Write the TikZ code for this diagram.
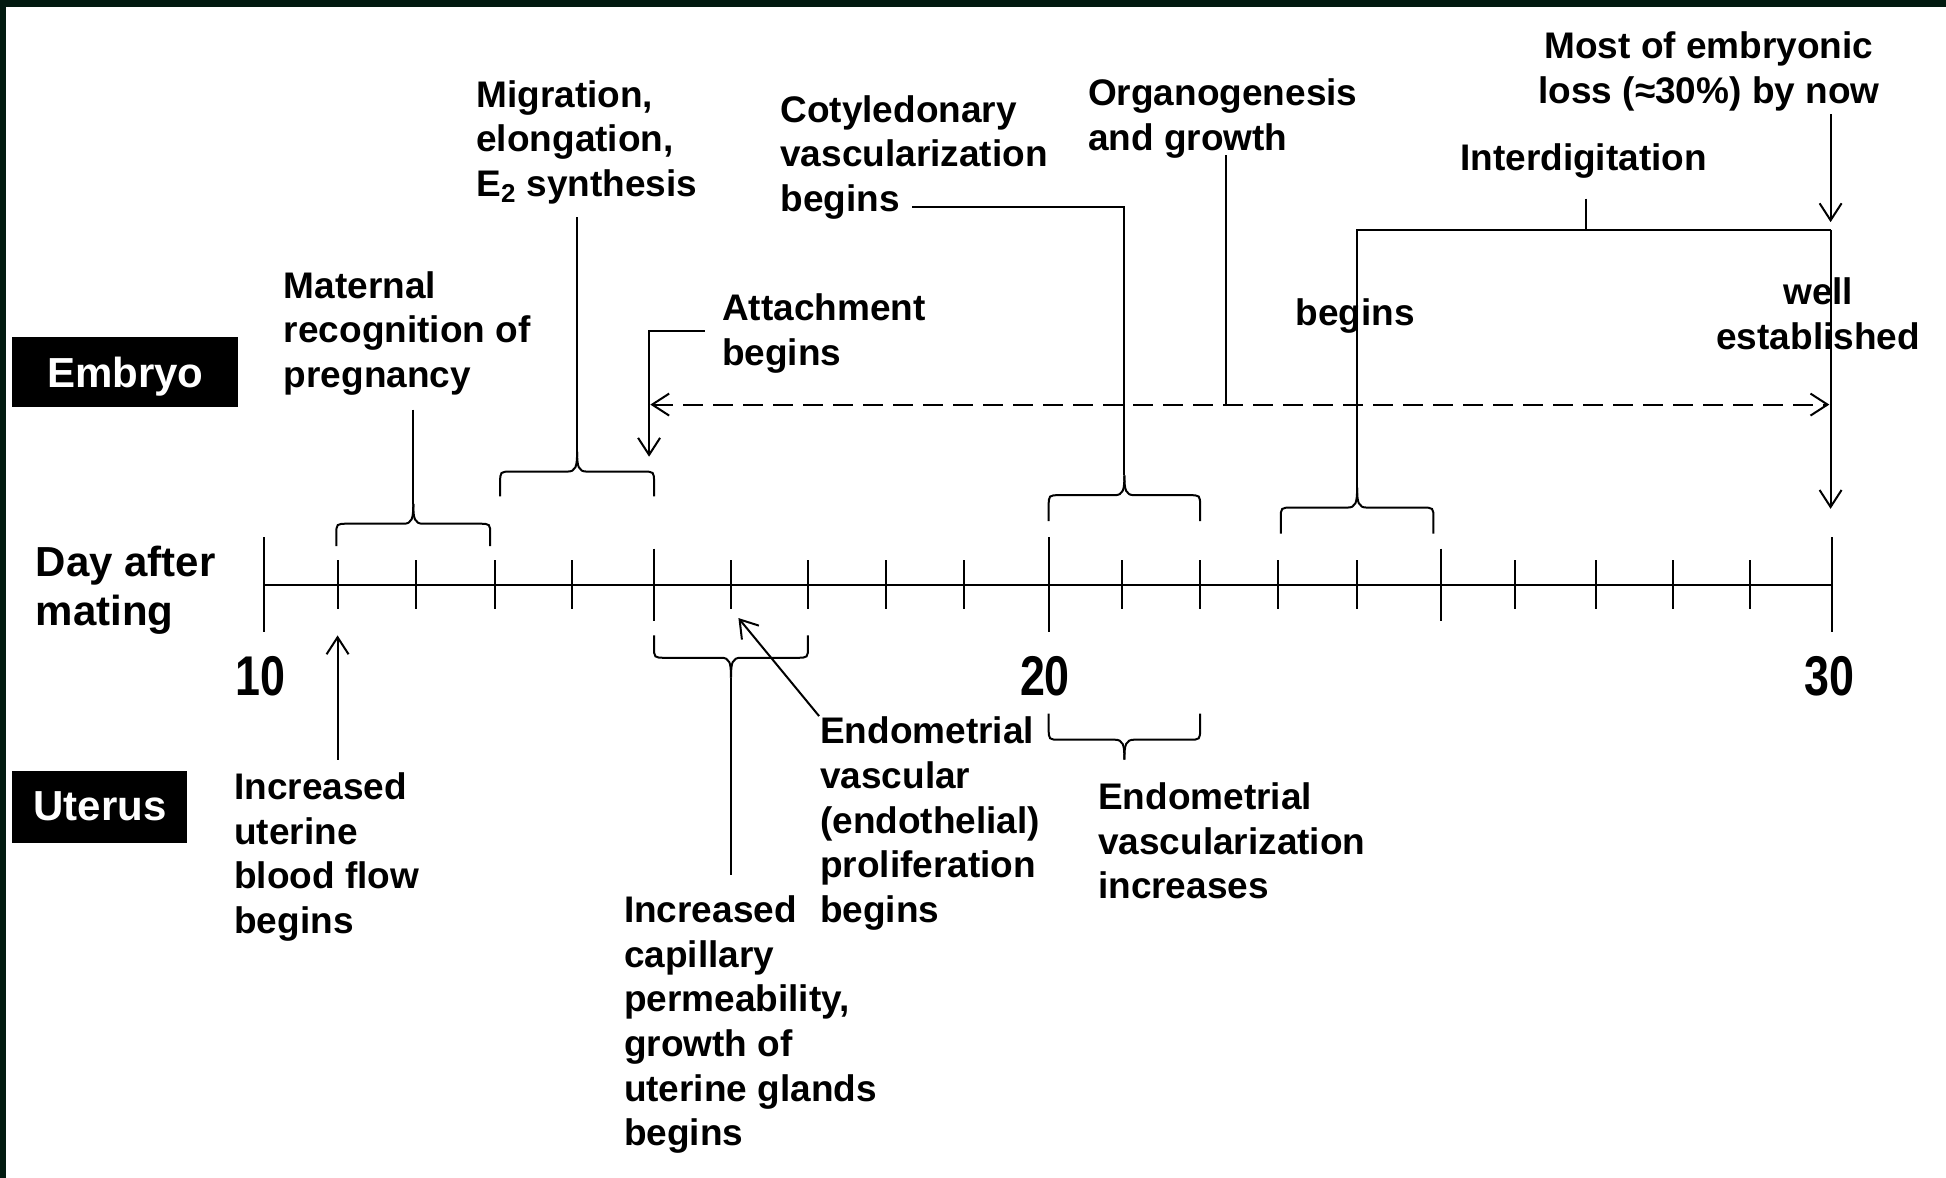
\documentclass[tikz,border=0pt]{standalone}
\usepackage{fontspec}
\setmainfont{Liberation Sans}
\usepackage{graphicx}
\usetikzlibrary{arrows.meta}
\definecolor{framegreen}{HTML}{021A10}
\newcommand\annfont{\bfseries\fontsize{18.5}{22.3}\selectfont}
\newcommand\lblfont{\bfseries\fontsize{21}{24.8}\selectfont}
\newcommand\numfont{\bfseries\fontsize{28}{30}\selectfont}
\newcommand\cond[1]{\scalebox{0.8}[1]{#1}}
% brace: x1, x2, y of ends, y of bar, y of tip
\newcommand\mybrace[5]{%
 \pgfmathsetmacro\bxm{(#1+#2)/2}%
 \pgfmathsetmacro\bsg{(#3>#4)?1:-1}%
 \pgfmathsetmacro\bya{#4+9*\bsg}%
 \pgfmathsetmacro\byb{#4-4*\bsg}%
 \draw (#1,#3) -- (#1,\bya) .. controls (#1,#4) .. (#1+9,#4) -- (\bxm-8,#4) .. controls (\bxm-1,#4) and (\bxm,\byb) .. (\bxm,#5);
 \draw (#2,#3) -- (#2,\bya) .. controls (#2,#4) .. (#2-9,#4) -- (\bxm+8,#4) .. controls (\bxm+1,#4) and (\bxm,\byb) .. (\bxm,#5);}
\begin{document}
\begin{tikzpicture}[x=0.6205pt,y=-0.6205pt,line width=1pt,
 ann/.style={font=\annfont,align=left,inner sep=0pt,anchor=north west},
 annc/.style={font=\annfont,align=center,inner sep=0pt,anchor=north},
 tag/.style={fill=black,text=white,font=\lblfont,inner sep=0pt},
 num/.style={font=\numfont,inner sep=0pt},
 arr/.style={-{Straight Barb[length=8.5pt,width=11pt]}},
 darr/.style={{Straight Barb[length=8.5pt,width=11pt]}-{Straight Barb[length=8.5pt,width=11pt]},dash pattern=on 10pt off 5pt}]

\useasboundingbox (0,0) rectangle (1568,949);
\fill[white] (0,0) rectangle (1568,949);
\fill[framegreen] (0,0) rectangle (1568,5.6);
\fill[framegreen] (0,0) rectangle (4.8,949);

% row labels
\node[tag,minimum width=113pt,minimum height=35pt,text depth=0pt] (embryo) at (101,300) {Embryo};
\node[tag,minimum width=87.5pt,minimum height=36pt] (uterus) at (80.5,650) {Uterus};
\node[font=\lblfont,align=left,inner sep=0pt,anchor=north west] (day) at (28,439) {Day after\\mating};

% day axis
\coordinate (d10) at (213,471);
\coordinate (d30) at (1476,471);
\draw (d10) -- (d30);
\foreach \x in {272,335,399,461,589,651,714,777,904,967,1030,1093,1221,1286,1348,1410}
  \draw (\x,451.5) -- (\x,490.5);
\foreach \x in {213,845,1476}
  \draw (\x,433) -- (\x,509);
\foreach \x in {527,1161}
  \draw (\x,442) -- (\x,500);
\node[num] (n10) at (210,545) {\cond{10}};
\node[num] (n20) at (842,545) {\cond{20}};
\node[num] (n30) at (1474,545) {\cond{30}};

% embryo texts
\node[ann] (maternal) at (228,218) {Maternal\\recognition of\\pregnancy};
\node[ann] (migration) at (383,64) {Migration,\\elongation,\\E\textsubscript{2} synthesis};
\node[ann] (attach) at (581,236) {Attachment\\begins};
\node[ann] (cotyl) at (628,76) {Cotyledonary\\vascularization\\begins};
\node[ann] (organo) at (876,63) {Organogenesis\\and growth};
\node[annc] (interdig) at (1276,115) {Interdigitation};
\node[annc] (most) at (1377,25) {Most of embryonic\\loss (≈30\%) by now};
\node[annc] (ibegins) at (1092,240) {begins};
\node[annc] (iwell) at (1465,223) {well\\established};

% uterus texts
\node[ann] (flow) at (188,622) {Increased\\uterine\\blood flow\\begins};
\node[ann] (capil) at (502,721) {Increased\\capillary\\permeability,\\growth of\\uterine glands\\begins};
\node[ann] (endoprol) at (660,577) {Endometrial\\vascular\\(endothelial)\\proliferation\\begins};
\node[ann] (endovasc) at (884,630) {Endometrial\\vascularization\\increases};

% braces
\mybrace{271}{395}{440}{422}{406}
\coordinate (tipA) at (333,406);
\mybrace{403}{527}{400}{380}{364}
\coordinate (tipB) at (465,364);
\mybrace{845}{967}{420}{399}{383}
\coordinate (tipD) at (906,383);
\mybrace{1032}{1155}{430}{409}{393}
\coordinate (tipF) at (1093.5,393);
\mybrace{527}{651}{512}{530}{546}
\coordinate (tipK) at (589,546);
\mybrace{845}{967}{575}{596}{612}

% connectors (embryo)
\coordinate (sA) at (333,330);
\draw (sA) -- (tipA);
\coordinate (sB) at (465,175);
\draw (sB) -- (tipB);
\coordinate (attL) at (568,267);
\coordinate (attC) at (523,267);
\coordinate (attT) at (523,368);
\draw[arr] (attL) -- (attC) -- (attT);
\coordinate (dL) at (524,326);
\coordinate (dR) at (1474,326);
\draw[darr] (dL) -- (dR);
\coordinate (cS) at (735,167);
\coordinate (cC) at (906,167);
\draw (cS) -- (cC) -- (tipD);
\coordinate (oS) at (988,125);
\coordinate (oE) at (988,326);
\draw (oS) -- (oE);
\coordinate (iS) at (1278,160);
\coordinate (iJ) at (1278,185);
\coordinate (iL) at (1093.5,185);
\coordinate (iR) at (1475,185);
\coordinate (iT) at (1475,410);
\draw (iS) -- (iJ);
\draw (tipF) -- (iL) -- (iR);
\draw[arr] (iR) -- (iT);
\coordinate (mS) at (1475,92);
\coordinate (mT) at (1475,179);
\draw[arr] (mS) -- (mT);

% connectors (uterus)
\coordinate (uS) at (272,612);
\coordinate (uT) at (272,512);
\draw[arr] (uS) -- (uT);
\coordinate (kE) at (589,705);
\draw (tipK) -- (kE);
\coordinate (eS) at (660,577);
\coordinate (eT) at (595,498);
\draw[arr] (eS) -- (eT);
\end{tikzpicture}
\end{document}
